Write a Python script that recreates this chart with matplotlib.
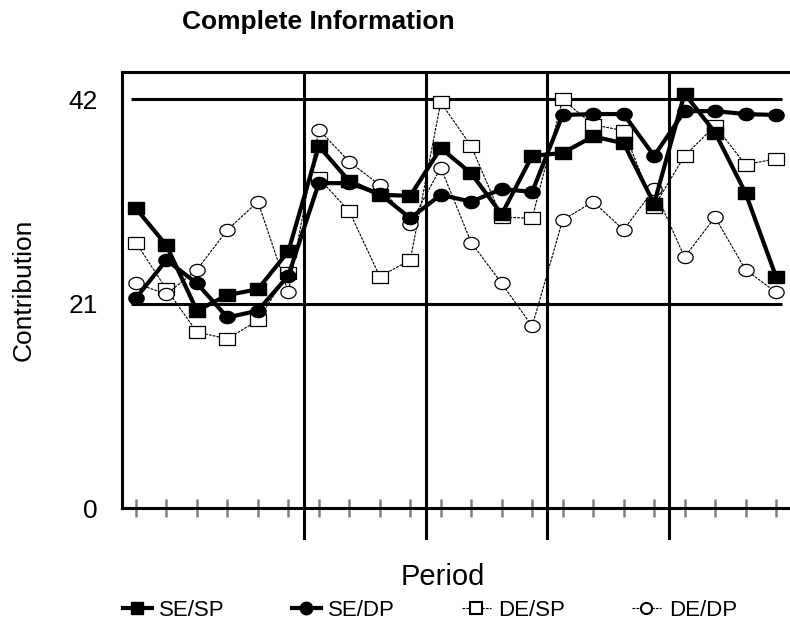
import numpy as np
import matplotlib.pyplot as plt
from matplotlib.lines import Line2D

plt.rcParams['font.family'] = ['Liberation Sans', 'DejaVu Sans']

# periods 1..22, grouped in blocks of 6, 4, 4, 4, 4
block_sizes = [6, 4, 4, 4, 4]
periods = np.arange(1, 23)

se_sp = [30.8, 27.0, 20.3, 21.9, 22.5, 26.4,
         37.2, 33.6, 32.2, 32.1,
         37.0, 34.4, 30.2, 36.2,
         36.5, 38.2, 37.5, 31.3,
         42.6, 38.6, 32.4, 23.8]
se_dp = [21.6, 25.5, 23.1, 19.6, 20.3, 23.9,
         33.4, 33.4, 32.3, 29.8,
         32.2, 31.5, 32.8, 32.5,
         40.4, 40.5, 40.5, 36.2,
         40.8, 40.8, 40.5, 40.4]
de_sp = [27.3, 22.5, 18.1, 17.4, 19.3, 24.2,
         33.9, 30.5, 23.8, 25.5,
         41.7, 37.2, 29.9, 29.8,
         42.0, 39.4, 38.8, 31.0,
         36.2, 39.3, 35.3, 35.9]
de_dp = [23.1, 22.0, 24.5, 28.6, 31.5, 22.2,
         38.9, 35.6, 33.2, 29.2,
         35.0, 27.3, 23.1, 18.7,
         29.6, 31.5, 28.6, 32.8,
         25.8, 29.9, 24.5, 22.2]

ref_lines = [21, 42]
ytick_vals = [0, 21, 42]

# slightly wide markers (the original chart is stretched horizontally)
rect = [(-1, -0.75), (1, -0.75), (1, 0.75), (-1, 0.75), (-1, -0.75)]
t = np.linspace(0, 2 * np.pi, 40)
ellipse = list(zip(np.cos(t), 0.8 * np.sin(t)))

fig = plt.figure(figsize=(7.9, 6.29), dpi=100)
ax = fig.add_axes([0.154, 0.192, 0.846, 0.694])

# reference lines at 21 and 42
ax.hlines(ref_lines, periods[0] - 0.15, periods[-1] + 0.2, color='black', lw=2.2, zorder=1)

# block separators
bounds = np.cumsum(block_sizes)[:-1] + 0.5
trans = ax.get_xaxis_transform()
for b in bounds:
    ax.plot([b, b], [1.0, -0.068], color='black', lw=2.2, transform=trans, clip_on=False, zorder=2)

thin = dict(color='black', lw=0.8, linestyle=(0, (2.5, 1)))
ax.plot(periods, de_sp, marker=rect, ms=11.5, mfc='white', mec='black', mew=0.9, zorder=3, **thin)
ax.plot(periods, de_dp, marker=ellipse, ms=11, mfc='white', mec='black', mew=0.9, zorder=3, **thin)
ax.plot(periods, se_dp, color='black', lw=3, marker=ellipse, ms=11, mfc='black', mec='black', zorder=4)
ax.plot(periods, se_sp, color='black', lw=3, marker=rect, ms=12, mfc='black', mec='black', zorder=5)

ax.set_xlim(0.53, 22.46)
ax.set_ylim(0, 44.85)

for side in ['left', 'top', 'bottom']:
    ax.spines[side].set_linewidth(2.2)
ax.spines['right'].set_visible(False)

ax.set_xticks(periods)
ax.set_xticklabels([])
ax.tick_params(axis='x', direction='inout', length=13, width=1.8, color='#808080')
ax.set_yticks(ytick_vals)
ax.set_yticklabels([str(v) for v in ytick_vals], fontsize=19)
ax.tick_params(axis='y', length=0, pad=17)

ax.set_ylabel('Contribution', fontsize=19, labelpad=24)
fig.text(0.56, 0.083, 'Period', ha='center', va='center', fontsize=21)
fig.text(0.403, 0.965, 'Complete Information', ha='center', va='center',
         fontsize=19, fontweight='bold')

handles = [
    Line2D([], [], color='black', lw=3, marker='s', ms=9),
    Line2D([], [], color='black', lw=3, marker='o', ms=9),
    Line2D([], [], marker='s', ms=8, mfc='white', mec='black', mew=1.5, **thin),
    Line2D([], [], marker='o', ms=8, mfc='white', mec='black', mew=1.5, **thin),
]
fig.legend(handles, ['SE/SP', 'SE/DP', 'DE/SP', 'DE/DP'], loc='center',
           bbox_to_anchor=(0.544, 0.029), ncol=4, frameon=False, fontsize=16,
           handlelength=1.3, handletextpad=0.35, columnspacing=3.0)

plt.savefig('out.png', dpi=100)
